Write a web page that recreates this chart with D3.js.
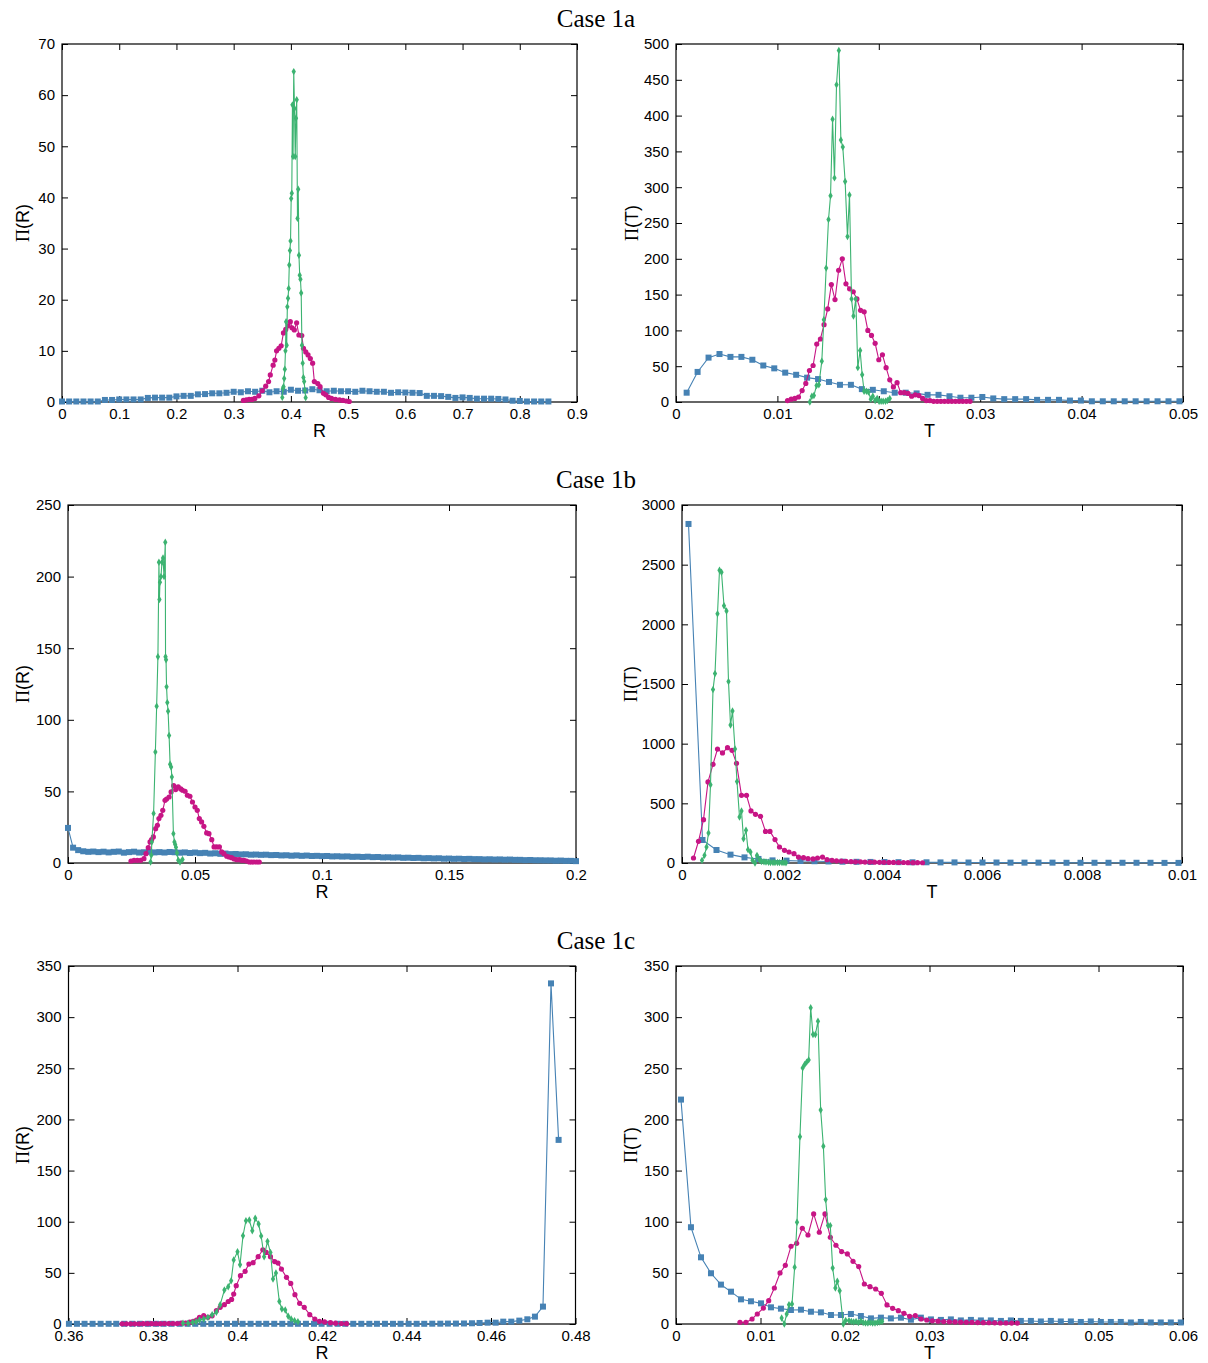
<!DOCTYPE html>
<html><head><meta charset="utf-8">
<script src="https://cdn.jsdelivr.net/npm/d3@7"></script>
<style>body{margin:0;background:#fff}</style>
</head><body>
<svg id="c" width="1208" height="1363"></svg>
<script>
// ---------------- DATA ----------------
const titles = ["Case 1a", "Case 1b", "Case 1c"];

// Case 1a, Pi(R)
const a_R_xticks = [0,0.1,0.2,0.3,0.4,0.5,0.6,0.7,0.8,0.9];
const a_R_xlabels = ["0","0.1","0.2","0.3","0.4","0.5","0.6","0.7","0.8","0.9"];
const a_R_yticks = [0,10,20,30,40,50,60,70];
const a_R_blue = [[0,0.1],[0.0125,0.1],[0.025,0.1],[0.0375,0.1],[0.05,0.1],[0.0625,0.1],[0.075,0.4],[0.0875,0.4],[0.1,0.5],[0.1125,0.5],[0.125,0.5],[0.1375,0.5],[0.15,0.8],[0.1625,0.85],[0.175,0.85],[0.1875,0.85],[0.2,1.1],[0.2125,1.2],[0.225,1.2],[0.2375,1.5],[0.25,1.55],[0.2625,1.7],[0.275,1.7],[0.2875,1.8],[0.3,2.0],[0.3125,1.9],[0.325,2.1],[0.3375,2.0],[0.35,2.2],[0.3625,1.9],[0.375,2.1],[0.3875,2.0],[0.4,2.4],[0.4125,2.2],[0.425,2.25],[0.4375,2.5],[0.45,2.3],[0.4625,2.1],[0.475,2.2],[0.4875,2.1],[0.5,2.1],[0.5125,2.0],[0.525,2.2],[0.5375,2.1],[0.55,2.0],[0.5625,2.0],[0.575,1.8],[0.5875,1.9],[0.6,1.85],[0.6125,1.8],[0.625,1.75],[0.6375,1.2],[0.65,1.2],[0.6625,1.15],[0.675,1.0],[0.6875,0.8],[0.7,0.9],[0.7125,0.8],[0.725,0.65],[0.7375,0.65],[0.75,0.65],[0.7625,0.6],[0.775,0.5],[0.7875,0.25],[0.8,0.2],[0.8125,0.1],[0.825,0.1],[0.8375,0.1],[0.85,0.1]];
const a_R_magenta = [[0.317,0.3],[0.322,0.4],[0.327,0.5],[0.332,0.5],[0.337,0.7],[0.344,1.2],[0.350,2.2],[0.356,3.1],[0.361,4.0],[0.364,5.3],[0.369,7.2],[0.372,8.2],[0.375,10.0],[0.379,10.5],[0.383,11.0],[0.387,13.5],[0.391,14.2],[0.395,14.9],[0.399,15.7],[0.402,14.5],[0.406,14.1],[0.410,15.5],[0.414,13.1],[0.419,13.0],[0.422,10.5],[0.426,9.8],[0.430,9.2],[0.434,8.5],[0.438,7.6],[0.441,4.0],[0.447,3.6],[0.451,3.0],[0.457,1.7],[0.461,1.4],[0.466,0.9],[0.471,0.7],[0.478,0.5],[0.485,0.4],[0.491,0.3],[0.497,0.2],[0.502,0.1]];
const a_R_green = [[0.3850,0.9],[0.3861,2.7],[0.3872,3.0],[0.3883,4.6],[0.3894,6.4],[0.3905,10.0],[0.3916,15.7],[0.3927,11.1],[0.3938,18.6],[0.3950,20.3],[0.3961,22.2],[0.3972,26.8],[0.3983,29.6],[0.3994,31.5],[0.4005,39.8],[0.4016,40.8],[0.4027,58.1],[0.4038,48.0],[0.4050,64.6],[0.4063,57.4],[0.4076,48.0],[0.4089,55.5],[0.4102,59.1],[0.4115,35.9],[0.4128,41.6],[0.4141,28.7],[0.4154,24.8],[0.4167,24.0],[0.4180,21.3],[0.4193,11.1],[0.4206,7.6],[0.4219,4.8],[0.4232,4.0],[0.4245,2.3],[0.4258,0.85]];

// Case 1a, Pi(T)
const a_T_xticks = [0,0.01,0.02,0.03,0.04,0.05];
const a_T_xlabels = ["0","0.01","0.02","0.03","0.04","0.05"];
const a_T_yticks = [0,50,100,150,200,250,300,350,400,450,500];
const a_T_blue = [[0.00105,13],[0.00213,42],[0.00321,62],[0.00429,67],[0.00537,63],[0.00645,63],[0.00753,59],[0.00861,51],[0.00969,47],[0.01077,41],[0.01185,38],[0.01293,34],[0.01401,32],[0.01509,28],[0.01617,24],[0.01725,24],[0.01833,18],[0.01941,17],[0.02049,15],[0.02157,13],[0.02265,13],[0.02373,12],[0.02481,10],[0.02589,10],[0.02697,8],[0.02805,6],[0.02913,6],[0.03021,7],[0.03129,5],[0.03237,4],[0.03345,4],[0.03453,4],[0.03561,3],[0.03669,3],[0.03777,3],[0.03885,2],[0.03993,2],[0.04101,1],[0.04209,1],[0.04317,1],[0.04425,1],[0.04533,1],[0.04641,1],[0.04749,1],[0.04857,1],[0.04965,1]];
const a_T_magenta = [[0.01100,2],[0.01136,4],[0.01172,5],[0.01208,7],[0.01244,16],[0.01280,26],[0.01316,44],[0.01352,51],[0.01388,81],[0.01424,88],[0.01460,108],[0.01496,130],[0.01532,164],[0.01568,143],[0.01604,184],[0.01640,200],[0.01676,165],[0.01712,158],[0.01748,154],[0.01784,144],[0.01820,128],[0.01856,126],[0.01892,100],[0.01928,93],[0.01964,82],[0.02000,59],[0.02036,66],[0.02072,48],[0.02108,31],[0.02144,21],[0.02180,27],[0.02216,13],[0.02252,13],[0.02288,12],[0.02324,8],[0.02360,10],[0.02396,9],[0.02432,5],[0.02468,2],[0.02504,2],[0.02540,1],[0.02576,1],[0.02612,1],[0.02648,1],[0.02684,1],[0.02720,1],[0.02756,1],[0.02792,1],[0.02828,1],[0.02864,1],[0.02900,1]];
const a_T_green = [[0.01320,0],[0.01340,8],[0.01360,9],[0.01386,23],[0.01409,24],[0.01438,57],[0.01458,115],[0.01481,187],[0.01504,255],[0.01524,288],[0.01544,395],[0.01563,313],[0.01583,443],[0.01606,491],[0.01626,366],[0.01645,356],[0.01668,308],[0.01691,231],[0.01711,289],[0.01731,144],[0.01750,120],[0.01773,144],[0.01793,48],[0.01816,72],[0.01836,38],[0.01855,15],[0.01878,15],[0.01898,14],[0.01921,4],[0.01941,8],[0.01964,2],[0.01984,5],[0.02003,1],[0.02023,1],[0.02043,1],[0.02066,1],[0.02085,2],[0.02108,5]];

// Case 1b, Pi(R)
const b_R_xticks = [0,0.05,0.1,0.15,0.2];
const b_R_xlabels = ["0","0.05","0.1","0.15","0.2"];
const b_R_yticks = [0,50,100,150,200,250];
const b_R_blue = [[0,24.5],[0.002,10.7],[0.004,9.0],[0.006,8.2],[0.008,7.8],[0.010,8.0],[0.012,7.6],[0.014,7.9],[0.016,7.4],[0.018,7.8],[0.020,8.0],[0.022,7.2],[0.024,7.6],[0.026,7.9],[0.028,7.3],[0.030,7.5],[0.032,7.8],[0.034,7.4],[0.036,7.6],[0.038,7.3],[0.040,7.7],[0.042,7.5],[0.044,7.2],[0.046,7.4],[0.048,7.0],[0.050,7.3],[0.052,6.9],[0.054,7.1],[0.056,6.6],[0.058,6.8],[0.060,6.4],[0.062,6.6],[0.064,6.2],[0.066,6.3],[0.068,6.0],[0.070,6.1],[0.072,5.8],[0.074,5.9],[0.076,5.7],[0.078,5.8],[0.080,5.5],[0.082,5.6],[0.084,5.3],[0.086,5.4],[0.088,5.1],[0.090,5.3],[0.092,5.0],[0.094,5.2],[0.096,4.9],[0.098,5.0],[0.100,4.8],[0.102,4.9],[0.104,4.6],[0.106,4.7],[0.108,4.5],[0.110,4.6],[0.112,4.3],[0.114,4.4],[0.116,4.2],[0.118,4.4],[0.120,4.1],[0.122,4.2],[0.124,3.9],[0.126,4.0],[0.128,3.8],[0.130,3.9],[0.132,3.6],[0.134,3.7],[0.136,3.5],[0.138,3.6],[0.140,3.3],[0.142,3.4],[0.144,3.2],[0.146,3.3],[0.148,3.0],[0.150,3.1],[0.152,2.9],[0.154,3.0],[0.156,2.8],[0.158,2.9],[0.160,2.7],[0.162,2.7],[0.164,2.5],[0.166,2.6],[0.168,2.4],[0.170,2.5],[0.172,2.3],[0.174,2.4],[0.176,2.2],[0.178,2.2],[0.180,2.0],[0.182,2.1],[0.184,1.9],[0.186,1.9],[0.188,1.8],[0.190,1.8],[0.192,1.6],[0.194,1.7],[0.196,1.5],[0.198,1.5],[0.200,1.3]];
const b_R_magenta = [[0.0248,1.4],[0.0260,1.9],[0.0273,1.9],[0.0286,1.9],[0.0299,3],[0.0307,6.5],[0.0316,10.7],[0.0323,14.7],[0.0329,16.3],[0.0336,18.2],[0.0345,24],[0.0352,26.3],[0.0358,31],[0.0366,33.3],[0.0373,36.8],[0.0382,43.8],[0.0388,44.7],[0.0398,46.1],[0.0406,49.6],[0.0416,54],[0.0424,51.3],[0.0434,53.1],[0.0444,51.7],[0.0451,50.8],[0.0461,50.1],[0.0470,47.3],[0.0480,46.6],[0.0490,42.6],[0.0500,39.1],[0.0509,36.8],[0.0517,31],[0.0526,28.7],[0.0535,25.6],[0.0546,21],[0.0555,20.5],[0.0566,16.3],[0.0575,11.2],[0.0585,11.2],[0.0596,11.2],[0.0605,7.7],[0.0614,6.5],[0.0625,4.7],[0.0634,4.2],[0.0644,3.7],[0.0654,2.8],[0.0664,2.3],[0.0675,2.3],[0.0684,1.9],[0.0693,1.9],[0.0703,1.4],[0.0714,0.7],[0.0723,0.7],[0.0732,0.7],[0.0743,0.7],[0.0753,0.7]];
const b_R_green = [[0.0325,0.7],[0.0328,5.4],[0.0330,14.7],[0.0337,34.5],[0.0344,77.6],[0.0349,109.5],[0.0354,144],[0.0358,210],[0.0360,184],[0.0362,196],[0.0366,200],[0.0370,210],[0.0374,213],[0.0378,200],[0.0383,224],[0.0384,144],[0.0386,142],[0.0388,123],[0.0391,112],[0.0394,106],[0.0398,89],[0.0402,69],[0.0406,67],[0.0409,60],[0.0415,20.5],[0.0419,14.7],[0.0422,13],[0.0425,11],[0.0429,7],[0.0434,2],[0.0441,0.7],[0.0451,2.5]];

// Case 1b, Pi(T)
const b_T_xticks = [0,0.002,0.004,0.006,0.008,0.01];
const b_T_xlabels = ["0","0.002","0.004","0.006","0.008","0.01"];
const b_T_yticks = [0,500,1000,1500,2000,2500,3000];
const b_T_blue = [[0.00013,2841],[0.00041,193],[0.00069,109],[0.00097,70],[0.00125,47],[0.00153,34],[0.00181,22],[0.00209,20],[0.00237,17],[0.00265,15],[0.00293,13],[0.00321,11],[0.00349,10],[0.00377,9],[0.00405,8],[0.00433,7],[0.00461,6],[0.00489,6],[0.00517,5],[0.00545,5],[0.00573,4],[0.00601,4],[0.00629,4],[0.00657,3],[0.00685,3],[0.00713,3],[0.00741,3],[0.00769,2],[0.00797,2],[0.00825,2],[0.00853,2],[0.00881,2],[0.00909,2],[0.00937,2],[0.00965,1],[0.00993,1]];
const b_T_magenta = [[0.00023,42],[0.00033,182],[0.00043,363],[0.00052,679],[0.00062,827],[0.00071,955],[0.00081,922],[0.00091,966],[0.00100,944],[0.00109,835],[0.00119,567],[0.00129,567],[0.00138,436],[0.00147,408],[0.00157,391],[0.00167,265],[0.00176,265],[0.00186,196],[0.00195,134],[0.00205,106],[0.00214,92],[0.00224,78],[0.00233,50],[0.00243,45],[0.00252,36],[0.00262,34],[0.00271,42],[0.00281,50],[0.00290,28],[0.00300,22],[0.00309,18],[0.00319,15],[0.00328,14],[0.00338,12],[0.00347,10],[0.00357,10],[0.00366,8],[0.00376,8],[0.00385,7],[0.00395,6],[0.00404,6],[0.00414,5],[0.00423,5],[0.00433,4],[0.00443,4],[0.00452,3],[0.00462,3],[0.00471,3],[0.00481,2]];
const b_T_green = [[0.00040,22],[0.00045,64],[0.00049,134],[0.00053,251],[0.00057,656],[0.00062,1453],[0.00066,1587],[0.00071,2089],[0.00075,2453],[0.00079,2436],[0.00084,2156],[0.00089,2112],[0.00093,1520],[0.00097,1156],[0.00101,1274],[0.00106,955],[0.00110,682],[0.00115,385],[0.00119,436],[0.00123,204],[0.00128,274],[0.00132,112],[0.00137,92],[0.00141,22],[0.00146,0],[0.00150,64],[0.00155,28],[0.00159,12],[0.00164,10],[0.00168,8],[0.00173,6],[0.00177,5],[0.00182,5],[0.00186,4],[0.00191,4],[0.00195,3],[0.00200,3],[0.00204,3],[0.00208,2]];

// Case 1c, Pi(R)
const c_R_xticks = [0.36,0.38,0.40,0.42,0.44,0.46,0.48];
const c_R_xlabels = ["0.36","0.38","0.4","0.42","0.44","0.46","0.48"];
const c_R_yticks = [0,50,100,150,200,250,300,350];
const c_R_blue = [[0.3601,0.2],[0.3620,0.2],[0.3638,0.2],[0.3657,0.2],[0.3676,0.2],[0.3695,0.2],[0.3713,0.2],[0.3732,0.2],[0.3751,0.2],[0.3769,0.2],[0.3788,0.2],[0.3807,0.2],[0.3825,0.2],[0.3844,0.2],[0.3863,0.2],[0.3882,0.2],[0.3900,0.2],[0.3919,0.2],[0.3938,0.2],[0.3956,0.2],[0.3975,0.2],[0.3994,0.2],[0.4012,0.2],[0.4031,0.2],[0.4050,0.2],[0.4068,0.2],[0.4087,0.2],[0.4106,0.2],[0.4125,0.2],[0.4143,0.2],[0.4162,0.2],[0.4181,0.2],[0.4199,0.2],[0.4218,0.2],[0.4237,0.2],[0.4255,0.2],[0.4274,0.2],[0.4293,0.2],[0.4312,0.2],[0.4330,0.2],[0.4349,0.2],[0.4368,0.2],[0.4386,0.2],[0.4405,0.2],[0.4424,0.2],[0.4442,0.2],[0.4461,0.3],[0.4480,0.3],[0.4498,0.4],[0.4517,0.4],[0.4536,0.5],[0.4555,0.7],[0.4573,1.0],[0.4592,1.3],[0.4611,1.3],[0.4629,2.3],[0.4648,2.3],[0.4667,3.3],[0.4686,4.6],[0.4704,7.2],[0.4723,17],[0.4742,333],[0.4760,180]];
const c_R_magenta = [[0.3727,0.2],[0.3737,0.2],[0.3747,0.2],[0.3757,0.2],[0.3767,0.2],[0.3777,0.3],[0.3787,0.3],[0.3797,0.3],[0.3807,0.3],[0.3817,0.3],[0.3827,0.4],[0.3837,0.4],[0.3847,0.5],[0.3857,0.5],[0.3867,0.8],[0.3877,1.0],[0.3887,1.8],[0.3895,2.6],[0.3903,3.9],[0.3910,6.5],[0.3920,8.1],[0.3930,6.5],[0.3940,8],[0.3950,13],[0.3959,16.3],[0.3969,18.9],[0.3978,22],[0.3986,24],[0.3991,29.3],[0.3997,37.5],[0.4007,47.2],[0.4018,51.5],[0.4027,58.6],[0.4037,60],[0.4049,65.8],[0.4060,72.6],[0.4068,70],[0.4078,65.8],[0.4088,61],[0.4096,59.6],[0.4104,53.7],[0.4116,45.6],[0.4126,39.7],[0.4136,28.7],[0.4147,20.2],[0.4158,16.3],[0.4171,9.1],[0.4183,4.9],[0.4194,2.6],[0.4206,2.0],[0.4220,1.3],[0.4232,0.8],[0.4246,0.5],[0.4258,0.3]];
const c_R_green = [[0.3871,0.7],[0.3883,0.7],[0.3894,1.6],[0.3902,2.3],[0.3910,3.9],[0.3920,4.9],[0.3930,6.5],[0.3940,9.1],[0.3950,11.4],[0.3959,18.9],[0.3969,33.2],[0.3978,36.5],[0.3985,42.3],[0.3991,62.5],[0.4000,70.7],[0.4006,58],[0.4013,86.3],[0.4020,101],[0.4028,101.6],[0.4035,91.2],[0.4042,103.3],[0.4050,97.7],[0.4056,86],[0.4063,65.8],[0.4071,80.8],[0.4078,70],[0.4084,44],[0.4091,49.8],[0.4099,22.1],[0.4105,14.7],[0.4113,13.7],[0.4120,7.5],[0.4127,4.9],[0.4135,3.3],[0.4143,2.3]];

// Case 1c, Pi(T)
const c_T_xticks = [0,0.01,0.02,0.03,0.04,0.05,0.06];
const c_T_xlabels = ["0","0.01","0.02","0.03","0.04","0.05","0.06"];
const c_T_yticks = [0,50,100,150,200,250,300,350];
const c_T_blue = [[0.00059,219.4],[0.00177,94.6],[0.00296,65.2],[0.00414,49.6],[0.00532,38.5],[0.00651,31.6],[0.00769,24.1],[0.00887,22.2],[0.01006,20.2],[0.01124,16.3],[0.01242,15],[0.01360,13.7],[0.01479,14],[0.01597,12],[0.01715,11.4],[0.01834,8.8],[0.01952,8.8],[0.02070,9.8],[0.02188,7.8],[0.02307,5.5],[0.02425,6.2],[0.02543,5.5],[0.02662,6.2],[0.02780,4.2],[0.02898,6.2],[0.03017,4.5],[0.03135,4],[0.03253,4.5],[0.03371,3.5],[0.03490,4],[0.03608,3.5],[0.03726,3.5],[0.03845,3],[0.03963,3.5],[0.04081,3],[0.04200,3],[0.04318,2.5],[0.04436,3],[0.04554,2.5],[0.04673,2.5],[0.04791,2],[0.04909,2.5],[0.05028,2],[0.05146,2],[0.05264,2],[0.05383,1.5],[0.05501,2],[0.05619,1.5],[0.05737,1.5],[0.05856,1.5],[0.05974,1.5]];
const c_T_magenta = [[0.00757,1.6],[0.00828,1.6],[0.00900,4.9],[0.00962,9.8],[0.01034,15.6],[0.01097,22.8],[0.01164,35.2],[0.01231,49.9],[0.01294,57.4],[0.01361,76],[0.01428,78.9],[0.01495,93.6],[0.01562,87],[0.01629,107.6],[0.01696,89.7],[0.01763,107.6],[0.01826,84.8],[0.01893,77],[0.01960,70.8],[0.02028,68.5],[0.02095,61.3],[0.02162,56.1],[0.02229,39.1],[0.02296,36.5],[0.02363,34.2],[0.02430,30],[0.02497,18.6],[0.02564,15.3],[0.02631,13],[0.02698,10.4],[0.02765,7.5],[0.02832,8.2],[0.02900,4.9],[0.02967,3.9],[0.03034,3.2],[0.03101,2.8],[0.03168,2.4],[0.03235,2.2],[0.03302,2.0],[0.03369,1.8],[0.03436,1.6],[0.03503,1.5],[0.03570,1.4],[0.03637,1.3],[0.03704,1.2],[0.03771,1.1],[0.03838,1.0],[0.03905,1.0],[0.03972,0.9],[0.04039,0.9]];
const c_T_green = [[0.01250,5.9],[0.01282,0],[0.01310,9.8],[0.01337,18.9],[0.01373,19.6],[0.01404,55.4],[0.01432,99.4],[0.01467,183],[0.01499,250.4],[0.01523,253.7],[0.01546,256],[0.01570,258.2],[0.01594,309.1],[0.01621,283],[0.01649,283],[0.01680,296],[0.01712,209.3],[0.01744,173.8],[0.01771,121.6],[0.01799,96.2],[0.01826,96.2],[0.01854,54.8],[0.01886,35.2],[0.01909,41.7],[0.01937,32.6],[0.01980,0],[0.02008,3.5],[0.02047,3.3],[0.02075,2.5],[0.02103,2],[0.02131,2.5],[0.02159,1.5],[0.02187,3],[0.02215,1.5],[0.02243,1],[0.02271,1],[0.02299,1.5],[0.02327,1],[0.02355,1],[0.02383,1.5],[0.02411,2],[0.02439,2.5]];

// ---------------- DRAW ----------------
const COL = {blue:"#4682b4", magenta:"#c71585", green:"#3cb371"};
const SANS = "'Liberation Sans', Arial, sans-serif";
const SERIF = "'Liberation Serif', 'Times New Roman', serif";
const svg = d3.select("#c");

const panels = [
  {box:[62,577,44,402], xt:a_R_xticks, xl:a_R_xlabels, yt:a_R_yticks, xlab:"R", ylab:"(R)", s:[a_R_blue,a_R_magenta,a_R_green], ylx:29},
  {box:[676,1183,44,402], xt:a_T_xticks, xl:a_T_xlabels, yt:a_T_yticks, xlab:"T", ylab:"(T)", s:[a_T_blue,a_T_magenta,a_T_green], ylx:638},
  {box:[68,576,505,863], xt:b_R_xticks, xl:b_R_xlabels, yt:b_R_yticks, xlab:"R", ylab:"(R)", s:[b_R_blue,b_R_magenta,b_R_green], ylx:29},
  {box:[682,1182,505,863], xt:b_T_xticks, xl:b_T_xlabels, yt:b_T_yticks, xlab:"T", ylab:"(T)", s:[b_T_blue,b_T_magenta,b_T_green], ylx:637},
  {box:[68.5,575.5,966,1324], xt:c_R_xticks, xl:c_R_xlabels, yt:c_R_yticks, xlab:"R", ylab:"(R)", s:[c_R_blue,c_R_magenta,c_R_green], ylx:29},
  {box:[676,1183,966,1324], xt:c_T_xticks, xl:c_T_xlabels, yt:c_T_yticks, xlab:"T", ylab:"(T)", s:[c_T_blue,c_T_magenta,c_T_green], ylx:637}
];
const titleY = [27, 488, 949];

titles.forEach((t,i)=>{
  svg.append("text").attr("x",596).attr("y",titleY[i]).attr("text-anchor","middle")
    .attr("font-family",SERIF).attr("font-size",25).attr("fill","#000").text(t);
});

panels.forEach(p=>{
  const [x0,x1,y0,y1] = p.box;
  const x = d3.scaleLinear().domain([p.xt[0], p.xt[p.xt.length-1]]).range([x0,x1]);
  const y = d3.scaleLinear().domain([p.yt[0], p.yt[p.yt.length-1]]).range([y1,y0]);
  const g = svg.append("g");

  const fmtX = (d,i)=>p.xl[i];
  const ax = [
    g.append("g").attr("transform",`translate(0,${y1})`).call(d3.axisBottom(x).tickValues(p.xt).tickFormat(fmtX).tickSize(-6).tickPadding(6)),
    g.append("g").attr("transform",`translate(0,${y0})`).call(d3.axisTop(x).tickValues(p.xt).tickFormat("").tickSize(-6)),
    g.append("g").attr("transform",`translate(${x0},0)`).call(d3.axisLeft(y).tickValues(p.yt).tickFormat(d3.format("d")).tickSize(-6).tickPadding(7)),
    g.append("g").attr("transform",`translate(${x1},0)`).call(d3.axisRight(y).tickValues(p.yt).tickFormat("").tickSize(-6))
  ];
  ax.forEach(a=>{
    a.select(".domain").remove();
    a.selectAll("line").attr("stroke","#000").attr("stroke-width",1);
    a.selectAll("text").attr("font-family",SANS).attr("font-size",15).attr("fill","#000");
  });
  g.append("rect").attr("x",x0).attr("y",y0).attr("width",x1-x0).attr("height",y1-y0)
    .attr("fill","none").attr("stroke","#000").attr("stroke-width",1.2);

  // axis labels
  g.append("text").attr("x",(x0+x1)/2).attr("y",y1+35).attr("text-anchor","middle")
    .attr("font-family",SANS).attr("font-size",18).attr("fill","#000").text(p.xlab);
  const yl = g.append("text").attr("transform",`translate(${p.ylx},${(y0+y1)/2}) rotate(-90)`)
    .attr("text-anchor","middle").attr("font-size",18).attr("fill","#000");
  yl.append("tspan").attr("font-family",SERIF).text("\u03A0");
  yl.append("tspan").attr("font-family",SANS).text(p.ylab);

  const line = d3.line().x(d=>x(d[0])).y(d=>y(d[1]));
  const [blue, magenta, green] = p.s;

  // blue squares
  g.append("path").datum(blue).attr("d",line).attr("fill","none").attr("stroke",COL.blue).attr("stroke-width",1.1);
  g.selectAll(".sq").data(blue).join("rect").attr("class","sq")
    .attr("x",d=>x(d[0])-3).attr("y",d=>y(d[1])-3).attr("width",6).attr("height",6).attr("fill",COL.blue);

  // magenta circles
  g.append("path").datum(magenta).attr("d",line).attr("fill","none").attr("stroke",COL.magenta).attr("stroke-width",1.1);
  g.selectAll(".ci").data(magenta).join("circle").attr("class","ci")
    .attr("cx",d=>x(d[0])).attr("cy",d=>y(d[1])).attr("r",2.6).attr("fill",COL.magenta);

  // green diamonds
  g.append("path").datum(green).attr("d",line).attr("fill","none").attr("stroke",COL.green).attr("stroke-width",1.1);
  const sym = d3.symbol().type(d3.symbolDiamond).size(16);
  g.selectAll(".di").data(green).join("path").attr("class","di")
    .attr("transform",d=>`translate(${x(d[0])},${y(d[1])})`).attr("d",sym).attr("fill",COL.green);
});
</script>
</body></html>
